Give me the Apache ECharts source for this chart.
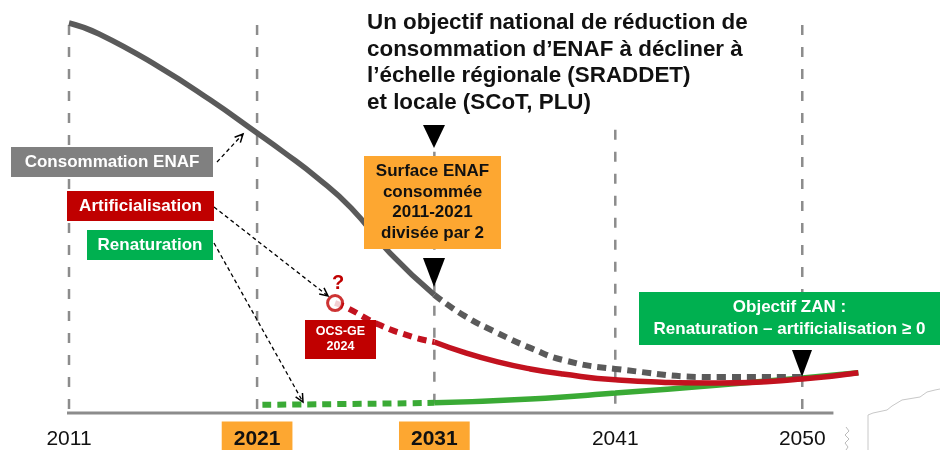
<!DOCTYPE html>
<html><head><meta charset="utf-8">
<script src="https://cdn.jsdelivr.net/npm/echarts@6/dist/echarts.min.js"></script>
<style>html,body{margin:0;padding:0;background:#fff}#c{width:940px;height:450px}</style>
</head><body><div id="c"></div>
<script>
// ---- data (years / relative surface index) ----
const tickYears = [2011, 2021, 2031, 2041, 2050];
const highlightYears = [2021, 2031];

const consoSolidYears  = [2011, 2012.6, 2015.8, 2018.5, 2021, 2022.5, 2024.4, 2026.3, 2028.5, 2031];
const consoSolidValues = [100, 97.2, 88.7, 80.3, 71.8, 66.9, 60.3, 52.6, 41.0, 30.3];
const consoDashYears   = [2031, 2032.6, 2034.5, 2036.3, 2038.1, 2041, 2046, 2050];
const consoDashValues  = [30.3, 25.1, 20.5, 16.7, 13.6, 11.3, 9.2, 9.2];

const artifDashYears   = [2025.4, 2026.1, 2027.9, 2029.8, 2031];
const artifDashValues  = [28.2, 26.9, 22.6, 19.5, 18.2];
const artifSolidYears  = [2031, 2032.6, 2034.5, 2036.3, 2038.1, 2041, 2046, 2050, 2052.7];
const artifSolidValues = [18.2, 15.6, 13.1, 11.3, 10.0, 8.5, 7.7, 8.7, 10.3];

const renatDashYears   = [2021.3, 2026, 2031];
const renatDashValues  = [2.1, 2.3, 2.6];
const renatSolidYears  = [2031, 2036.3, 2041, 2046, 2050, 2052.7];
const renatSolidValues = [2.6, 3.6, 5.1, 7.2, 9.0, 10.3];

const ocsYear = 2025.4, ocsValue = 28.2;

// ---- layout: where each labelled year sits along the drawn axis ----
const tickPos = [0, 10.26, 19.93, 29.8, 40];
function toPos(y) {
  for (let i = 0; i < tickYears.length - 1; i++) {
    if (y <= tickYears[i + 1] || i === tickYears.length - 2) {
      return tickPos[i] + (y - tickYears[i]) * (tickPos[i + 1] - tickPos[i]) / (tickYears[i + 1] - tickYears[i]);
    }
  }
}
const pts = (ys, vs) => ys.map((y, i) => [toPos(y), vs[i]]);

const FONT = '"Liberation Sans", Arial, sans-serif';
const GRAY = '#5A5A5A', RED = '#C2121F', GREEN = '#3AAA35';

const vTop = {2011: 99.5, 2021: 99.5, 2031: 72.6, 2041: 72.6, 2050: 99.5};
const vlines = tickYears.map(y => ({
  type: 'line', silent: true, symbol: 'none', clip: false, z: 1,
  data: [[toPos(y), vTop[y]], [toPos(y), -0.6]],
  lineStyle: {color: '#8C8C8C', width: 2.5, type: [10, 12]}
}));

function line(data, color, dashed, z) {
  return {
    type: 'line', data, smooth: 0.5, symbol: 'none', clip: false, z: z,
    lineStyle: {color, width: dashed ? 6 : 5.5, type: dashed ? [9, 6] : 'solid', cap: 'butt'}
  };
}

function arrow(x1, y1, x2, y2) {
  const a = Math.atan2(y2 - y1, x2 - x1), L = 9, s = 0.45;
  return [
    {type: 'line', z: 50, shape: {x1, y1, x2, y2}, style: {stroke: '#000', lineWidth: 1.3, lineDash: [4, 3]}},
    {type: 'polyline', z: 50, shape: {points: [
      [x2 - L * Math.cos(a - s), y2 - L * Math.sin(a - s)], [x2, y2],
      [x2 - L * Math.cos(a + s), y2 - L * Math.sin(a + s)]]},
      style: {stroke: '#000', lineWidth: 1.5, fill: null}}
  ];
}
function box(x, y, w, h, color, text, fontSize, lh, textColor) {
  return [
    {type: 'rect', z: 60, shape: {x, y, width: w, height: h}, style: {fill: color}},
    {type: 'text', z: 61, style: {text, x: x + w / 2, y: y + h / 2, align: 'center', verticalAlign: 'middle',
      font: 'bold ' + fontSize + 'px ' + FONT, fill: textColor || '#fff', lineHeight: lh}}
  ];
}
function tri(cx, top, w, h) {
  return {type: 'polygon', z: 70, shape: {points: [[cx - w / 2, top], [cx + w / 2, top], [cx, top + h]]}, style: {fill: '#000'}};
}

const graphics = [].concat(
  [{type: 'text', z: 60, style: {text: 'Un objectif national de réduction de\nconsommation d’ENAF à décliner à\nl’échelle régionale (SRADDET)\net locale (SCoT, PLU)',
    x: 367, y: 10, font: 'bold 22.4px ' + FONT, fill: '#111', lineHeight: 26.5}}],
  tri(434, 125, 22, 23),
  box(364, 156, 137, 93, '#FDA731', 'Surface ENAF\nconsommée\n2011-2021\ndivisée par 2', 17, 20.5, '#111'),
  tri(434, 258, 22, 29),
  box(639, 292, 301, 53, '#00B050', 'Objectif ZAN :\nRenaturation – artificialisation ≥ 0', 17, 22),
  tri(802, 350, 20, 27),
  box(11, 147, 202, 30, '#808080', 'Consommation ENAF', 17, 20),
  box(67, 191, 147, 30, '#C00000', 'Artificialisation', 17, 20),
  box(87, 230, 126, 30, '#00B050', 'Renaturation', 17, 20),
  box(305, 320, 71, 39, '#C00000', 'OCS-GE\n2024', 12.5, 15),
  [{type: 'text', z: 60, style: {text: '?', x: 338, y: 283, align: 'center', verticalAlign: 'middle', font: 'bold 20px ' + FONT, fill: '#C00000'}}],
  arrow(217, 162, 243, 134),
  arrow(214, 207, 328, 296),
  arrow(214, 243, 303, 402),
  [{type: 'polyline', z: 0, shape: {points: [[868, 450], [868, 415], [873, 413], [887, 410], [892, 406], [902, 400], [920, 397], [927, 392], [935, 390], [940, 389]]},
    style: {stroke: '#C8C8C8', lineWidth: 1, fill: null}},
   {type: 'polyline', z: 0, shape: {points: [[846, 427], [849, 431], [845, 435], [849, 439], [845, 443], [848, 447], [846, 450]]},
    style: {stroke: '#BBBBBB', lineWidth: 1, fill: null}}]
);

const chart = echarts.init(document.getElementById('c'), null, {renderer: 'canvas'});
chart.setOption({
  animation: false,
  backgroundColor: '#fff',
  grid: {left: 69, right: 82, top: 23, bottom: 37, outerBoundsMode: 'none', containLabel: false},
  xAxis: {
    type: 'value', min: 0, max: 43.04,
    axisLine: {show: false}, axisTick: {show: false}, splitLine: {show: false},
    axisLabel: {
      customValues: tickYears.map(toPos), margin: 12,
      formatter: v => {
        const idx = tickPos.findIndex(p => Math.abs(p - v) < 0.01);
        const yr = tickYears[idx];
        return highlightYears.includes(yr) ? '{h|' + yr + '}' : '{n|' + yr + '}';
      },
      rich: {
        n: {fontFamily: FONT, fontSize: 21, color: '#111', padding: [7, 12, 3, 12], lineHeight: 24},
        h: {fontFamily: FONT, fontSize: 21, fontWeight: 'bold', color: '#111', backgroundColor: '#FDA731', padding: [7, 12, 3, 12], lineHeight: 24}
      }
    }
  },
  yAxis: {type: 'value', min: 0, max: 100, show: false},
  series: vlines.concat([
    {type: 'line', silent: true, symbol: 'none', clip: false, z: 2, data: [[-0.65, 0], [41.7, 0]],
      lineStyle: {color: '#8C8C8C', width: 3}},
    line(pts(renatDashYears, renatDashValues), GREEN, true, 5),
    line(pts(renatSolidYears, renatSolidValues), GREEN, false, 5),
    line(pts(consoDashYears, consoDashValues), GRAY, true, 6),
    line(pts(consoSolidYears, consoSolidValues), GRAY, false, 6),
    line(pts(artifDashYears, artifDashValues), RED, true, 7),
    line(pts(artifSolidYears, artifSolidValues), RED, false, 7),
    {type: 'scatter', z: 20, clip: false, data: [[toPos(ocsYear), ocsValue]], symbol: 'circle', symbolSize: 15,
      itemStyle: {color: '#fff', borderColor: '#C00000', borderWidth: 3}}
  ]),
  graphic: graphics
});
</script></body></html>
